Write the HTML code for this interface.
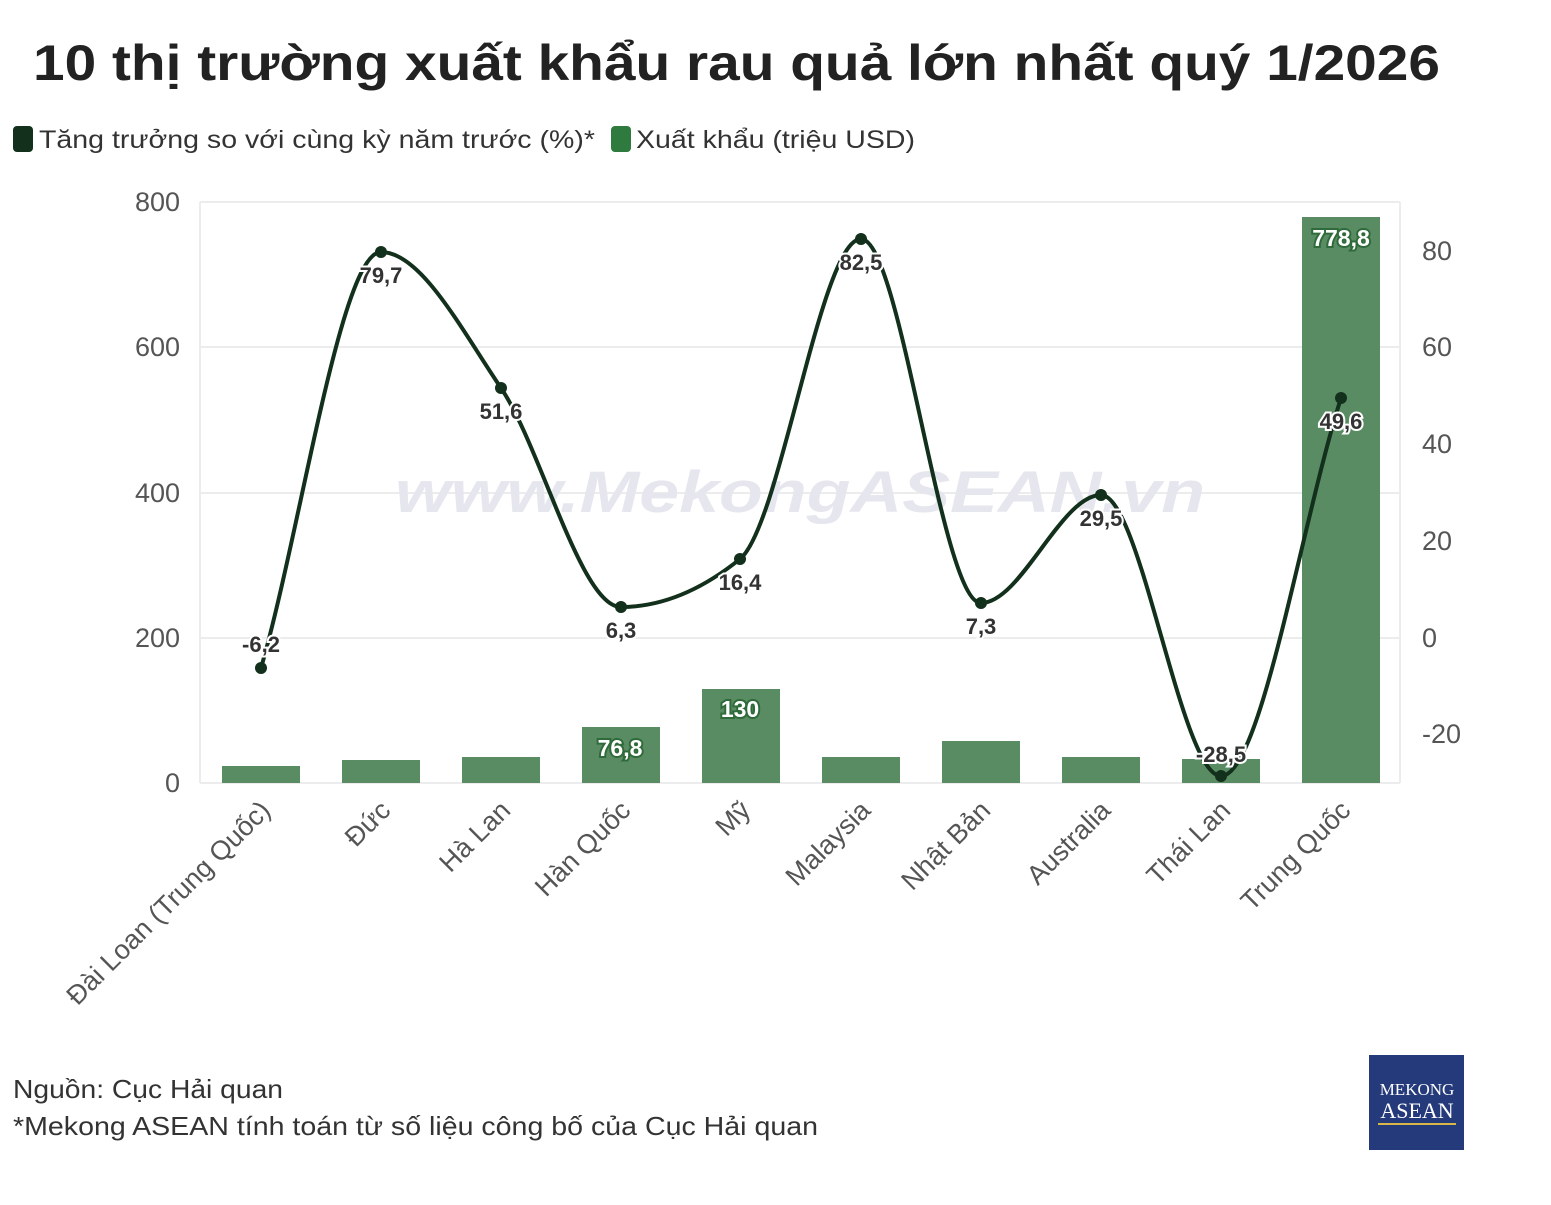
<!DOCTYPE html>
<html><head><meta charset="utf-8"><style>
body{margin:0;background:#fff;width:1551px;height:1200px;overflow:hidden;font-family:"Liberation Sans",sans-serif}
</style></head><body>
<svg width="1551" height="1200" viewBox="0 0 1551 1200" xmlns="http://www.w3.org/2000/svg" font-family="Liberation Sans, sans-serif">
<text x="33" y="80" font-size="50" font-weight="bold" fill="#222" textLength="1407" lengthAdjust="spacingAndGlyphs">10 thị trường xuất khẩu rau quả lớn nhất quý 1/2026</text>
<rect x="13" y="126" width="20" height="26" rx="4" fill="#12301c"/>
<text x="39" y="148" font-size="25" fill="#333" textLength="556" lengthAdjust="spacingAndGlyphs">Tăng trưởng so với cùng kỳ năm trước (%)*</text>
<rect x="611" y="126" width="20" height="26" rx="4" fill="#2f7a3f"/>
<text x="636" y="148" font-size="25" fill="#333" textLength="279" lengthAdjust="spacingAndGlyphs">Xuất khẩu (triệu USD)</text>
<g stroke="#ececec" stroke-width="2">
<line x1="200" y1="202" x2="1400" y2="202"/><line x1="200" y1="347" x2="1400" y2="347"/>
<line x1="200" y1="493" x2="1400" y2="493"/><line x1="200" y1="638" x2="1400" y2="638"/>
<line x1="200" y1="783" x2="1400" y2="783"/><line x1="200" y1="202" x2="200" y2="783"/><line x1="1400" y1="202" x2="1400" y2="783"/>
</g>
<g font-size="27" fill="#555" text-anchor="end">
<text x="180" y="211">800</text><text x="180" y="356">600</text><text x="180" y="502">400</text><text x="180" y="647">200</text><text x="180" y="792">0</text>
</g>
<g font-size="27" fill="#555">
<text x="1422" y="260">80</text><text x="1422" y="356">60</text><text x="1422" y="453">40</text><text x="1422" y="550">20</text><text x="1422" y="647">0</text><text x="1422" y="743">-20</text>
</g>
<text x="800" y="512" font-size="58" font-weight="bold" font-style="italic" fill="#e6e6ee" text-anchor="middle" textLength="810" lengthAdjust="spacingAndGlyphs">www.MekongASEAN.vn</text>
<g fill="#5a8c63">
<rect x="222" y="766" width="78" height="17"/><rect x="342" y="760" width="78" height="23"/>
<rect x="462" y="757" width="78" height="26"/><rect x="582" y="727" width="78" height="56"/>
<rect x="702" y="689" width="78" height="94"/><rect x="822" y="757" width="78" height="26"/>
<rect x="942" y="741" width="78" height="42"/><rect x="1062" y="757" width="78" height="26"/>
<rect x="1182" y="759" width="78" height="24"/><rect x="1302" y="217" width="78" height="566"/>
</g>
<g font-size="23" font-weight="bold" fill="#fff" text-anchor="middle" stroke="#2f6b3a" stroke-width="4" paint-order="stroke">
<text x="620" y="756">76,8</text><text x="740" y="717">130</text><text x="1341" y="246">778,8</text>
</g>
<path id="ln" fill="none" stroke="#12301c" stroke-width="4" d=""/>
<g id="pts" fill="#12301c"></g>
<g font-size="22" font-weight="bold" fill="#333" text-anchor="middle" stroke="#fff" stroke-width="4" paint-order="stroke">
<text x="261" y="652">-6,2</text><text x="381" y="283">79,7</text><text x="501" y="419">51,6</text>
<text x="621" y="638">6,3</text><text x="740" y="590">16,4</text><text x="861" y="270">82,5</text>
<text x="981" y="634">7,3</text><text x="1101" y="526">29,5</text><text x="1221" y="762">-28,5</text><text x="1341" y="429">49,6</text>
</g>
<g font-size="27" fill="#555" text-anchor="end">
<text transform="translate(272,812) rotate(-45)">Đài Loan (Trung Quốc)</text>
<text transform="translate(392,812) rotate(-45)">Đức</text>
<text transform="translate(512,812) rotate(-45)">Hà Lan</text>
<text transform="translate(632,812) rotate(-45)">Hàn Quốc</text>
<text transform="translate(752,812) rotate(-45)">Mỹ</text>
<text transform="translate(872,812) rotate(-45)">Malaysia</text>
<text transform="translate(992,812) rotate(-45)">Nhật Bản</text>
<text transform="translate(1112,812) rotate(-45)">Australia</text>
<text transform="translate(1232,812) rotate(-45)">Thái Lan</text>
<text transform="translate(1352,812) rotate(-45)">Trung Quốc</text>
</g>
<text x="13" y="1098" font-size="26" fill="#333" textLength="270" lengthAdjust="spacingAndGlyphs">Nguồn: Cục Hải quan</text>
<text x="13" y="1135" font-size="26" fill="#333" textLength="805" lengthAdjust="spacingAndGlyphs">*Mekong ASEAN tính toán từ số liệu công bố của Cục Hải quan</text>
<rect x="1369" y="1055" width="95" height="95" fill="#253a7a"/>
<text x="1417" y="1095" font-size="17" fill="#fff" text-anchor="middle" font-family="Liberation Serif, serif">MEKONG</text>
<text x="1417" y="1118" font-size="22" fill="#fff" text-anchor="middle" font-family="Liberation Serif, serif">ASEAN</text>
<line x1="1378" y1="1124" x2="1456" y2="1124" stroke="#d9b54a" stroke-width="2"/>
</svg>
<script>
var xs=[261,381,501,621,740,861,981,1101,1221,1341],ys=[668,252,388,607,559,239,603,495,776,398];
var n=10,dl=[],m=[];
for(var i=0;i<n-1;i++)dl.push((ys[i+1]-ys[i])/(xs[i+1]-xs[i]));
for(var i=0;i<n;i++){
 if(i==0)m.push(dl[0]);else if(i==n-1)m.push(dl[n-2]);
 else{var a=dl[i-1],b=dl[i];if(a*b<=0)m.push(0);else{var h0=xs[i]-xs[i-1],h1=xs[i+1]-xs[i];var p=(a*h1+b*h0)/(h0+h1);m.push((Math.sign(a)+Math.sign(b))*Math.min(Math.abs(a),Math.abs(b),0.5*Math.abs(p)));}}
}
var d="M"+xs[0]+","+ys[0];
for(var i=0;i<n-1;i++){var h=(xs[i+1]-xs[i])/3;
d+=" C"+(xs[i]+h)+","+(ys[i]+m[i]*h)+" "+(xs[i+1]-h)+","+(ys[i+1]-m[i+1]*h)+" "+xs[i+1]+","+ys[i+1];}
document.getElementById("ln").setAttribute("d",d);
var g=document.getElementById("pts");
for(var i=0;i<n;i++){var c=document.createElementNS("http://www.w3.org/2000/svg","circle");c.setAttribute("cx",xs[i]);c.setAttribute("cy",ys[i]);c.setAttribute("r",6);g.appendChild(c);}
</script>
</body></html>
